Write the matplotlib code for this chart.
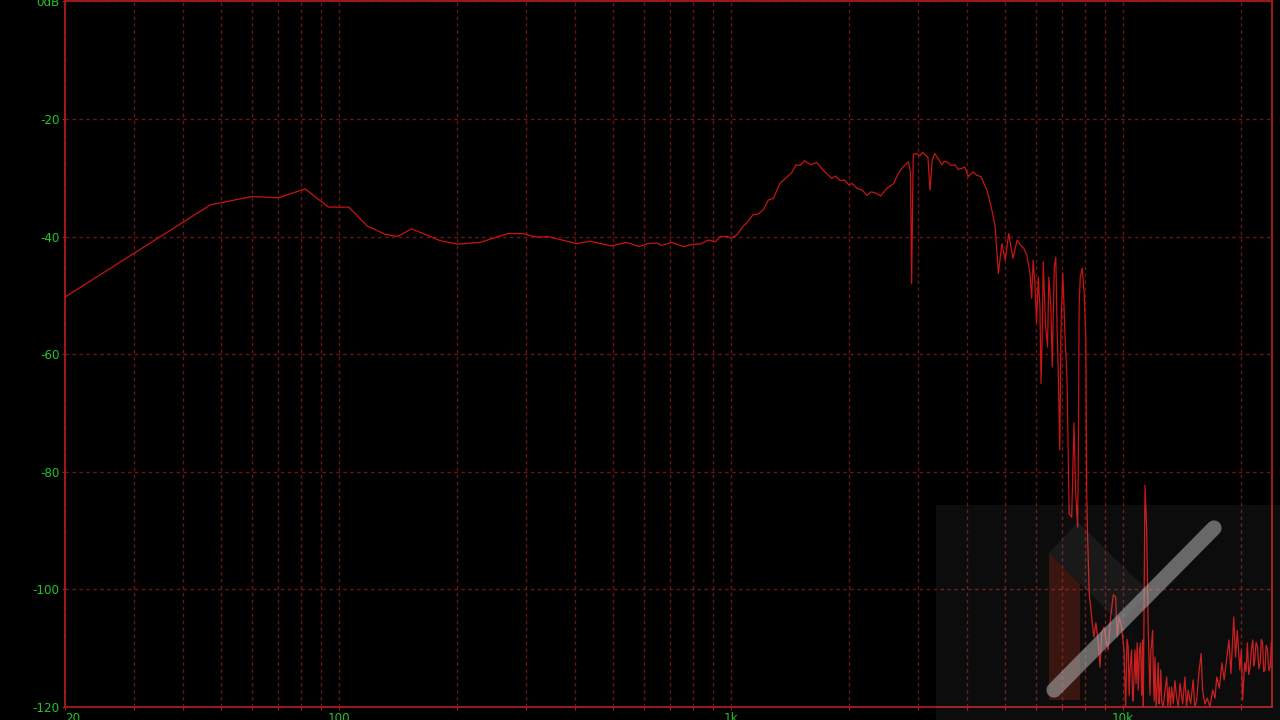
import matplotlib
matplotlib.use("Agg")
import matplotlib.pyplot as plt
from matplotlib.ticker import FixedLocator, NullFormatter
from matplotlib.patches import Polygon, Rectangle
from matplotlib.lines import Line2D

# frequency response (Hz, dB)
freq = [
    20, 47, 60, 65, 70, 82, 94, 106, 118, 131, 141, 153, 167, 181, 201, 229,
    270, 294, 320, 341, 404, 436, 496, 540, 584, 612, 646, 666, 706, 756, 802,
    834, 876, 912, 938, 980, 1002, 1040, 1072, 1100, 1138, 1172, 1210, 1246,
    1283, 1332, 1398, 1430, 1466, 1500, 1540, 1600, 1652, 1720, 1806, 1850,
    1898, 1950, 1996, 2040, 2097, 2160, 2224, 2280, 2338, 2410, 2498, 2600,
    2670, 2752, 2835, 2870, 2890, 2905, 2918, 2980, 3030, 3080, 3130, 3180,
    3220, 3260, 3310, 3380, 3452, 3500, 3550, 3650, 3728, 3800, 3880, 3950,
    4032, 4150, 4240, 4340, 4498, 4630, 4720, 4810, 4910, 5010, 5110, 5240,
    5370, 5480, 5580, 5680, 5790, 5850, 5900, 5960, 6020, 6080, 6140, 6180,
    6220, 6260, 6340, 6420, 6470, 6550, 6600, 6680, 6740, 6790, 6840, 6900,
    6950, 7020, 7050, 7110, 7200, 7250, 7290, 7400, 7500, 7570, 7660, 7690,
    7730, 7780, 7870, 7960, 8040, 8080, 8120, 8200, 8320, 8430, 8530, 8650,
    8740, 8830, 8950, 9050, 9170, 9300, 9450, 9580, 9670, 9780, 9920, 10060,
    10160, 10240, 10310, 10370, 10420, 10520, 10570, 10620, 10730, 10800,
    10870, 10940, 11020, 11090, 11160, 11230, 11270, 11380, 11490, 11600,
    11720, 11780, 11840, 11900, 11950, 12010, 12070, 12150, 12230, 12300,
    12360, 12430, 12490, 12550, 12670, 12800, 12930, 13020, 13120, 13220,
    13310, 13440, 13570, 13700, 13840, 13980, 14200, 14390, 14530, 14670,
    14880, 15100, 15250, 15410, 15650, 15830, 15960, 16190, 16410, 16670,
    16940, 17170, 17350, 17620, 17880, 18120, 18420, 18640, 18860, 19170,
    19370, 19570, 19870, 20040, 20200, 20440, 20600, 20770, 20930, 21100,
    21270, 21440, 21560, 21690, 21860, 22040, 22210, 22390, 22540, 22700,
    22860, 23020, 23200, 23380, 23560, 23740, 23900, 24070, 24250,
]
level = [
    -50.3, -34.6, -33.2, -33.3, -33.4, -31.9, -35.0, -35.0, -38.2, -39.6,
    -40.0, -38.7, -39.7, -40.7, -41.3, -41.0, -39.5, -39.5, -40.1, -40.0,
    -41.2, -40.8, -41.6, -41.0, -41.7, -41.2, -41.1, -41.5, -41.0, -41.7,
    -41.3, -41.3, -40.6, -40.9, -40.0, -40.0, -40.3, -39.6, -38.3, -37.6,
    -36.3, -36.2, -35.4, -33.8, -33.5, -31.0, -29.7, -29.1, -27.8, -27.9,
    -27.1, -27.8, -27.4, -28.7, -30.1, -29.7, -30.5, -30.4, -31.2, -31.0,
    -31.8, -32.1, -33.0, -32.4, -32.6, -33.1, -31.8, -31.0, -29.3, -28.1,
    -27.3, -29.0, -48.0, -35.0, -26.0, -25.9, -26.3, -25.7, -26.1, -26.5,
    -32.1, -27.0, -25.9, -26.8, -27.8, -27.2, -27.3, -27.9, -27.8, -28.6,
    -28.4, -28.2, -29.8, -29.0, -29.6, -29.8, -32.1, -35.5, -38.3, -46.3,
    -41.2, -44.0, -39.5, -43.7, -40.6, -41.5, -42.0, -43.0, -46.2, -50.5,
    -44.0, -48.0, -54.7, -46.9, -52.0, -65.0, -57.6, -44.3, -54.7, -58.8,
    -46.9, -52.0, -62.2, -45.2, -43.5, -55.4, -63.2, -76.3, -55.4, -46.2,
    -49.1, -56.4, -64.4, -76.8, -87.1, -87.7, -71.7, -83.1, -89.4, -80.2,
    -52.0, -46.9, -45.4, -49.6, -57.6, -83.1, -90.4, -100.6, -104.7, -108.1,
    -105.7, -109.1, -113.2, -107.4, -106.4, -108.6, -110.3, -104.7, -100.9,
    -101.3, -108.1, -104.7, -106.4, -110.3, -120.0, -108.5, -109.8, -118.0,
    -113.7, -110.3, -117.5, -119.0, -110.3, -116.0, -109.1, -117.1, -110.5,
    -109.1, -118.0, -108.6, -120.0, -82.3, -89.4, -106.9, -118.0, -110.5,
    -109.1, -107.0, -113.7, -119.0, -111.5, -120.0, -116.6, -112.5, -119.5,
    -117.1, -113.7, -119.0, -120.0, -117.1, -114.9, -120.0, -116.6, -120.0,
    -116.6, -119.4, -115.5, -118.3, -120.0, -116.0, -119.5, -114.9, -120.0,
    -117.1, -119.5, -115.4, -120.0, -119.0, -113.7, -110.9, -117.1, -119.5,
    -118.5, -120.0, -117.1, -118.5, -114.9, -116.8, -112.5, -115.4, -111.5,
    -108.6, -114.3, -104.7, -111.5, -107.0, -113.7, -110.3, -118.8, -112.5,
    -114.0, -109.1, -114.5, -113.2, -110.0, -108.6, -113.0, -112.0, -109.0,
    -109.8, -113.5, -112.5, -108.5, -109.1, -114.0, -113.7, -109.5, -110.3,
    -113.8, -113.2, -109.0, -110.8, -115.9,
]

x_ticks = [20, 100, 1000, 10000]
x_tick_labels = ["20", "100", "1k", "10k"]
x_grid = [30, 40, 50, 60, 70, 80, 90, 200, 300, 400, 500, 600, 700, 800, 900,
          2000, 3000, 4000, 5000, 6000, 7000, 8000, 9000, 20000]
y_ticks = [0, -20, -40, -60, -80, -100, -120]
y_tick_labels = ["0dB", "-20", "-40", "-60", "-80", "-100", "-120"]

W, H = 1280, 720
fig = plt.figure(figsize=(12.8, 7.2), dpi=100, facecolor="black")
ax = fig.add_axes([65 / W, 1 - 707 / H, (1272 - 65) / W, (707 - 1.3) / H])
ax.set_facecolor("black")

ax.plot(freq, level, color="#c81414", lw=0.9, zorder=3)

ax.set_xscale("log")
ax.set_xlim(20, 24000)
ax.set_ylim(-120, 0)

grid_col = "#6e1414"
ax.xaxis.set_major_locator(FixedLocator(x_ticks))
ax.xaxis.set_minor_locator(FixedLocator(x_grid))
ax.xaxis.set_minor_formatter(NullFormatter())
ax.set_xticklabels(x_tick_labels)
ax.set_yticks(y_ticks)
ax.set_yticklabels(y_tick_labels)
ax.grid(which="both", color=grid_col, ls=(0, (2.5, 2.5)), lw=1.0, zorder=1)

for s in ax.spines.values():
    s.set_color("#a81c1c")
    s.set_linewidth(1.3)

ax.tick_params(which="both", colors="#a81c1c", length=2.5, width=0.8)
ax.tick_params(axis="x", pad=1, labelcolor="#22c422", labelsize=9.5)
ax.tick_params(axis="y", pad=1.5, labelcolor="#22c422", labelsize=9.5)
for t in ax.get_xticklabels() + ax.get_yticklabels():
    t.set_fontfamily(["DejaVu Sans", "Liberation Sans"])
    t.set_fontstretch("condensed")
ax.get_xticklabels()[0].set_horizontalalignment("left")


# watermark in the lower right corner
def fp(x, y):
    return (x / W, 1 - y / H)


fig.add_artist(Rectangle(fp(936, 720), 344 / W, 215 / H, transform=fig.transFigure,
                         facecolor="white", alpha=0.05, edgecolor="none", zorder=5))
fig.add_artist(Polygon([fp(1049, 553), fp(1078, 522), fp(1150, 593), fp(1120, 623)],
                       closed=True, transform=fig.transFigure, facecolor="#909090",
                       alpha=0.1, edgecolor="none", zorder=6))
fig.add_artist(Polygon([fp(1049, 553), fp(1080, 584), fp(1080, 700), fp(1049, 700)],
                       closed=True, transform=fig.transFigure, facecolor="#b03018",
                       alpha=0.28, edgecolor="none", zorder=6))
bar = Line2D([1054 / W, 1214 / W], [1 - 690 / H, 1 - 528 / H], transform=fig.transFigure,
             color="#b4b4b4", alpha=0.55, lw=11, solid_capstyle="round", zorder=7)
fig.add_artist(bar)

fig.savefig("out.png", dpi=100, facecolor="black")
